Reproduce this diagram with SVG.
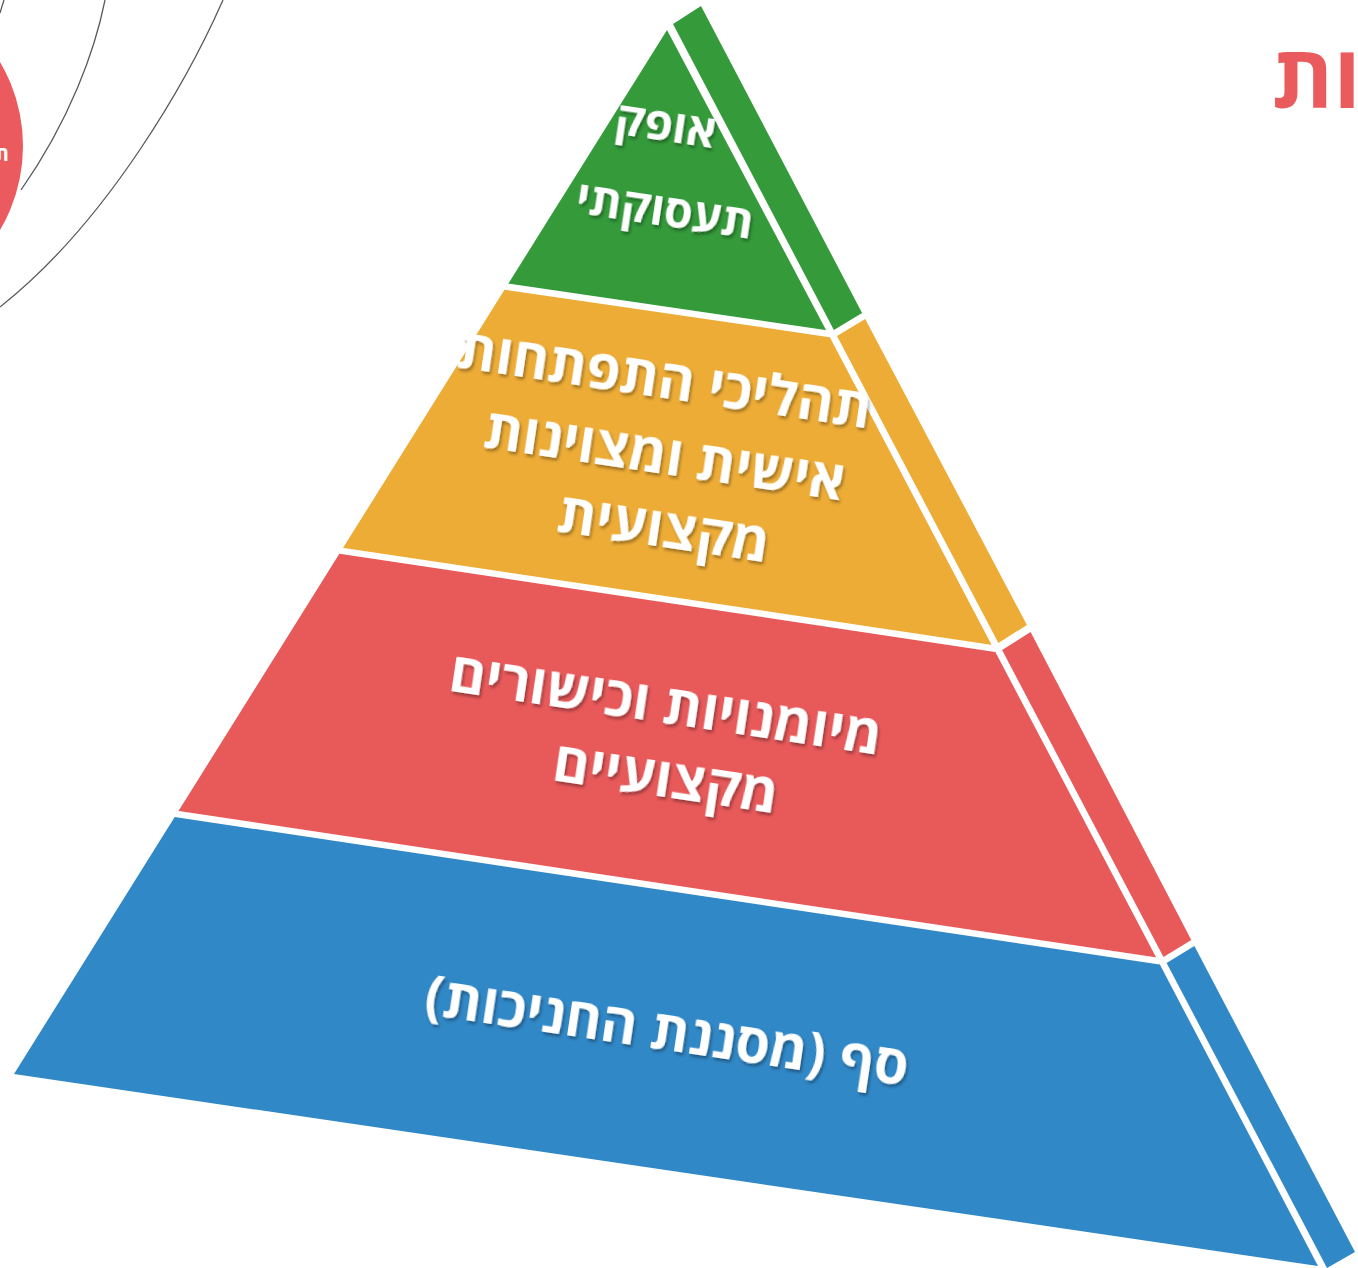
<svg xmlns="http://www.w3.org/2000/svg" width="1358" height="1268" viewBox="0 0 1358 1268">
<defs>
<filter id="sh" x="-10%" y="-30%" width="120%" height="160%">
<feDropShadow dx="2" dy="2.5" stdDeviation="1.5" flood-color="#000" flood-opacity="0.35"/>
</filter>
<style>
.lbl{font-family:"Open Sans","DejaVu Sans","Liberation Sans",sans-serif;font-weight:700;font-size:55px;fill:#fff;text-anchor:middle;direction:rtl;filter:url(#sh)}
.sm{font-size:46px}
.sep{stroke:#fff;stroke-width:6.5;fill:none}
.arc{stroke:#5a5a5a;stroke-width:1.3;fill:none}
.g{fill:#349A3A}.o{fill:#EDAC36}.r{fill:#E8595A}.b{fill:#3188C7}
</style>
</defs>
<rect width="1358" height="1268" fill="#fff"/>
<g id="background">
<path class="arc" d="M0,13 Q2,6 4,0"/>
<path class="arc" d="M105,0 C95,50 70,120 21,190"/>
<path class="arc" d="M223,0 C190,75 110,220 0,307"/>
<circle cx="-142" cy="146" r="165" fill="#EB5A5F"/>
<text x="9" y="161" font-family="Open Sans, DejaVu Sans, sans-serif" font-weight="700" font-size="20" fill="#fff" text-anchor="end">ת</text>
<text x="1272" y="108" font-family="Open Sans, DejaVu Sans, sans-serif" font-weight="700" font-size="88" fill="#EA5B5E">ות</text>
</g>
<g id="layer-green">
<polygon class="g" points="667,30 828,333.7 506.5,286.6"/>
<polygon class="g" points="673,24 701,6 862.1,313 833.9,330"/>
<text class="lbl sm" x="666" y="141" transform="rotate(8.5 666 125)">אופק</text>
<text class="lbl sm" x="665" y="226" transform="rotate(8.5 665 210)">תעסוקתי</text>
</g>
<g id="layer-orange">
<polygon class="o" points="506.5,286.6 828,333.7 993.5,648.4 341.2,550.8"/>
<polygon class="o" points="837,336 865.2,319 1026.9,625 998.4,643"/>
<text class="lbl" x="665" y="398" transform="rotate(8.5 665 378)">תהליכי התפתחות</text>
<text class="lbl" x="665" y="474" transform="rotate(8.5 665 454)">אישית ומצוינות</text>
<text class="lbl" x="664" y="547" transform="rotate(8.5 664 527)">מקצועית</text>
</g>
<g id="layer-red">
<polygon class="r" points="341.2,550.8 993.5,648.4 1158,961 176.6,814"/>
<polygon class="r" points="1002.1,650 1030.6,632 1191.3,940 1163.5,957"/>
<text class="lbl" x="666" y="723" transform="rotate(8.5 666 703)">מיומנויות וכישורים</text>
<text class="lbl" x="666" y="797" transform="rotate(8.5 666 777)">מקצועיים</text>
</g>
<g id="layer-blue">
<polygon class="b" points="176.6,814 1158,961 1318,1266 14,1074"/>
<polygon class="b" points="1166.6,963 1194.4,946 1355,1252 1327,1268"/>
<text class="lbl" x="667" y="1050" transform="rotate(8.5 667 1030)">סף (מסננת החניכות)</text>
</g>
<g id="connectors">
<line class="sep" x1="500" y1="285.7" x2="830" y2="334"/>
<line class="sep" x1="335" y1="549.9" x2="995.5" y2="648.7"/>
<line class="sep" x1="170" y1="813" x2="1160" y2="961.3"/>
</g>
</svg>
